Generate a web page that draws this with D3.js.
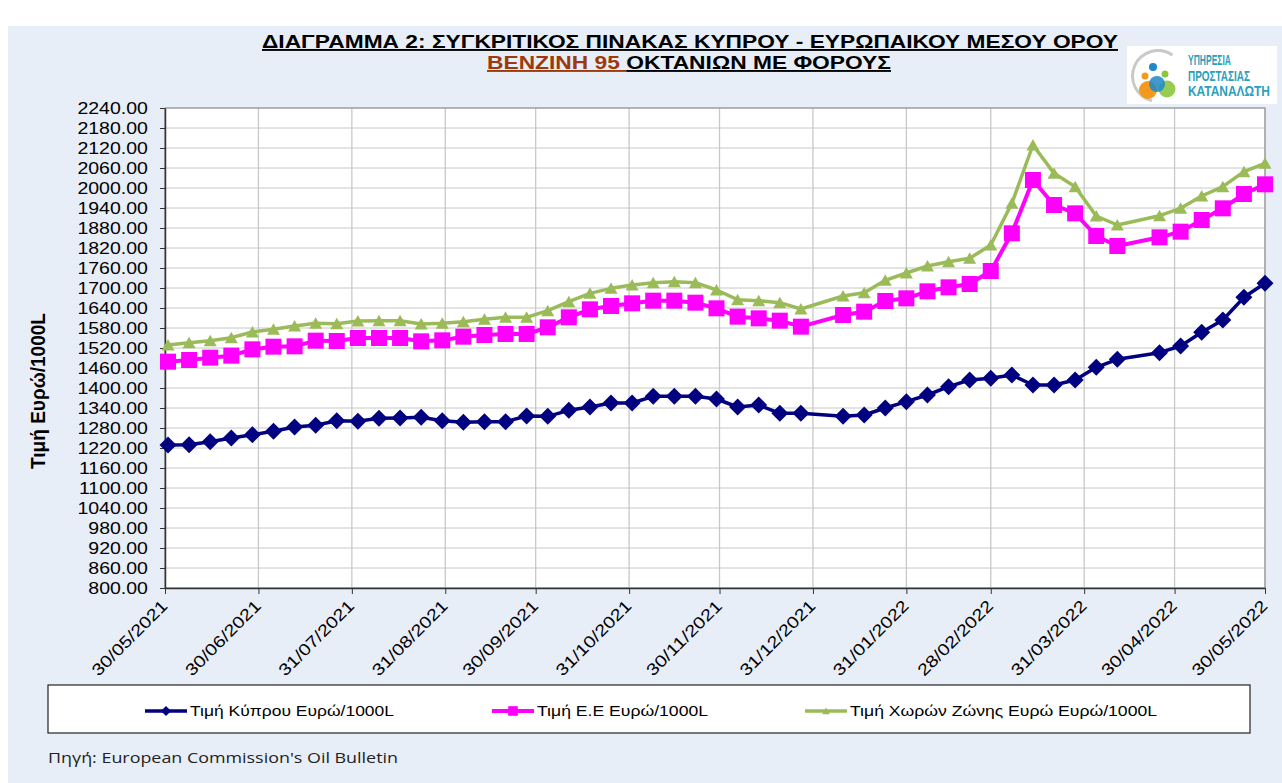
<!DOCTYPE html>
<html>
<head>
<meta charset="utf-8">
<script src="https://cdn.jsdelivr.net/npm/d3@7"></script>
<style>
    body { margin: 0; background: #fff; }
    svg { display: block; font-family: "Liberation Sans", Arial, sans-serif; }
</style>
</head>
<body>
<svg id="chart" width="1282" height="783"></svg>
<script>
// weekly Oil Bulletin dates (03/01/2022 and 18/04/2022 are missing)
const dates = [
    '31/05/2021', '07/06/2021', '14/06/2021', '21/06/2021', '28/06/2021', '05/07/2021', '12/07/2021',
    '19/07/2021', '26/07/2021', '02/08/2021', '09/08/2021', '16/08/2021', '23/08/2021', '30/08/2021',
    '06/09/2021', '13/09/2021', '20/09/2021', '27/09/2021', '04/10/2021', '11/10/2021', '18/10/2021',
    '25/10/2021', '01/11/2021', '08/11/2021', '15/11/2021', '22/11/2021', '29/11/2021', '06/12/2021',
    '13/12/2021', '20/12/2021', '27/12/2021', '10/01/2022', '17/01/2022', '24/01/2022', '31/01/2022',
    '07/02/2022', '14/02/2022', '21/02/2022', '28/02/2022', '07/03/2022', '14/03/2022', '21/03/2022',
    '28/03/2022', '04/04/2022', '11/04/2022', '25/04/2022', '02/05/2022', '09/05/2022', '16/05/2022',
    '23/05/2022', '30/05/2022'
]
const cyprus = [
    1229, 1230, 1239, 1250, 1260, 1270, 1283, 1288, 1302, 1300, 1309, 1310, 1312, 1302,
    1297, 1299, 1299, 1316, 1315, 1333, 1343, 1355, 1355, 1375, 1375, 1375, 1367, 1343,
    1349, 1324, 1324, 1315, 1319, 1340, 1359, 1379, 1404, 1424, 1429, 1439, 1409, 1409,
    1424, 1462, 1486, 1506, 1526, 1567, 1604, 1672, 1714
]
const eu = [
    1479, 1484, 1491, 1497, 1516, 1524, 1525, 1542, 1541, 1550, 1550, 1550, 1540, 1543,
    1554, 1559, 1562, 1562, 1582, 1612, 1636, 1646, 1654, 1662, 1662, 1656, 1639, 1614,
    1609, 1602, 1584, 1619, 1629, 1661, 1669, 1690, 1702, 1712, 1751, 1864, 2024, 1949,
    1924, 1856, 1826, 1852, 1869, 1904, 1939, 1982, 2011
]
const euroZone = [
    1529, 1536, 1542, 1551, 1568, 1576, 1586, 1594, 1593, 1601, 1602, 1602, 1592, 1594,
    1599, 1606, 1612, 1612, 1632, 1659, 1684, 1699, 1709, 1716, 1719, 1716, 1694, 1665,
    1662, 1656, 1637, 1676, 1686, 1723, 1745, 1766, 1779, 1789, 1829, 1954, 2129, 2044,
    2004, 1916, 1889, 1917, 1939, 1976, 2004, 2049, 2074
]
const seriesNames = ['Τιμή Κύπρου Ευρώ/1000L', 'Τιμή Ε.Ε Ευρώ/1000L', 'Τιμή Χωρών Ζώνης Ευρώ Ευρώ/1000L']
const xTickLabels = [
    '30/05/2021', '30/06/2021', '31/07/2021', '31/08/2021', '30/09/2021', '31/10/2021', '30/11/2021',
    '31/12/2021', '31/01/2022', '28/02/2022', '31/03/2022', '30/04/2022', '30/05/2022'
]
const yTicks = [
    800, 860, 920, 980, 1040, 1100, 1160, 1220, 1280, 1340, 1400, 1460, 1520,
    1580, 1640, 1700, 1760, 1820, 1880, 1940, 2000, 2060, 2120, 2180, 2240
]
const titleLine1 = 'ΔΙΑΓΡΑΜΜΑ 2: ΣΥΓΚΡΙΤΙΚΟΣ ΠΙΝΑΚΑΣ ΚΥΠΡΟΥ - ΕΥΡΩΠΑΙΚΟΥ ΜΕΣΟΥ ΟΡΟΥ'
const titleLine2a = 'ΒΕΝΖΙΝΗ 95 '
const titleLine2b = 'ΟΚΤΑΝΙΩΝ ΜΕ ΦΟΡΟΥΣ'
const yTitle = 'Τιμή Ευρώ/1000L'
const source = "Πηγή: European Commission's Oil Bulletin"
const logoLines = ['ΥΠΗΡΕΣΙΑ', 'ΠΡΟΣΤΑΣΙΑΣ', 'ΚΑΤΑΝΑΛΩΤΗ']

const SX = 1.22 // the original chart is stretched sideways
const parse = d3.timeParse('%d/%m/%Y')
const fmt = d3.timeFormat('%d/%m/%Y')

const svg = d3.select('#chart')

// panel behind the chart
svg.append('rect').attr('x', 8).attr('y', 26).attr('width', 1274).attr('height', 757).attr('fill', '#e8eef8')

const plot = { left: 165, right: 1265, top: 108, bottom: 588 }

const x = d3
    .scaleTime()
    .domain([parse(xTickLabels[0]), parse(xTickLabels[xTickLabels.length - 1])])
    .range([plot.left, plot.right])
const y = d3.scaleLinear().domain([yTicks[0], yTicks[yTicks.length - 1]]).range([plot.bottom, plot.top])

svg.append('rect')
    .attr('x', plot.left).attr('y', plot.top)
    .attr('width', plot.right - plot.left).attr('height', plot.bottom - plot.top)
    .attr('fill', '#fff')

// grid
svg.append('g').selectAll('line').data(yTicks).join('line')
    .attr('x1', plot.left).attr('x2', plot.right)
    .attr('y1', (d) => y(d)).attr('y2', (d) => y(d))
    .attr('stroke', '#c8c8c8').attr('stroke-width', 1)
svg.append('g').selectAll('line').data(xTickLabels.map(parse)).join('line')
    .attr('x1', (d) => x(d)).attr('x2', (d) => x(d))
    .attr('y1', plot.top).attr('y2', plot.bottom)
    .attr('stroke', '#c8c8c8').attr('stroke-width', 1.3)

svg.append('rect')
    .attr('x', plot.left).attr('y', plot.top)
    .attr('width', plot.right - plot.left).attr('height', plot.bottom - plot.top)
    .attr('fill', 'none').attr('stroke', '#888').attr('stroke-width', 1)

// y axis
const gY = svg.append('g')
    .attr('transform', `translate(${plot.left},0)`)
    .call(d3.axisLeft(y).tickValues(yTicks).tickSize(5).tickSizeOuter(0).tickFormat((d) => d.toFixed(2)))
gY.attr('font-family', null).attr('font-size', 16)
gY.select('.domain').attr('stroke', '#333').attr('stroke-width', 1.5)
gY.selectAll('line').attr('stroke', '#333')
gY.selectAll('text').attr('x', -14).attr('dy', '0.35em').attr('fill', '#000').attr('transform', `scale(${SX},1)`)

// x axis
const gX = svg.append('g')
    .attr('transform', `translate(0,${plot.bottom})`)
    .call(d3.axisBottom(x).tickValues(xTickLabels.map(parse)).tickSize(6).tickSizeOuter(0).tickFormat(fmt))
gX.attr('font-family', null).attr('font-size', 16.5)
gX.select('.domain').attr('stroke', '#333').attr('stroke-width', 1.5)
gX.selectAll('line').attr('stroke', '#333')
gX.selectAll('text')
    .attr('x', 0).attr('y', 0).attr('dy', 0)
    .attr('text-anchor', 'end').attr('fill', '#000')
    .attr('textLength', 99).attr('lengthAdjust', 'spacingAndGlyphs')
    .attr('transform', 'translate(3,19) rotate(-45)')

// series
const markers = {
    diamond: 'M0,-8.5L8.5,0L0,8.5L-8.5,0Z',
    square: 'M-8,-8H8V8H-8Z',
    triangle: 'M0,-6L6.5,5.5L-6.5,5.5Z'
}
const series = [
    { name: seriesNames[0], values: cyprus, color: '#000080', marker: 'diamond', width: 3.5 },
    { name: seriesNames[1], values: eu, color: '#ff00ff', marker: 'square', width: 4 },
    { name: seriesNames[2], values: euroZone, color: '#9bbb59', marker: 'triangle', width: 3.5 }
]
const line = d3.line().x((d) => x(d.date)).y((d) => y(d.v))

series.forEach((s) => {
    const pts = dates.map((d, i) => ({ date: parse(d), v: s.values[i] }))
    const g = svg.append('g')
    g.append('path').datum(pts).attr('d', line)
        .attr('fill', 'none').attr('stroke', s.color).attr('stroke-width', s.width).attr('stroke-linejoin', 'round')
    g.selectAll('path.m').data(pts).join('path')
        .attr('class', 'm')
        .attr('d', markers[s.marker])
        .attr('transform', (d) => `translate(${x(d.date)},${y(d.v)})`)
        .attr('fill', s.color)
})

// y title
svg.append('text')
    .attr('transform', `translate(45,391) scale(${SX},1) rotate(-90)`)
    .attr('text-anchor', 'middle')
    .attr('font-size', 16).attr('font-weight', 'bold')
    .attr('textLength', 156).attr('lengthAdjust', 'spacingAndGlyphs')
    .text(yTitle)

// titles
svg.append('text')
    .attr('x', 690).attr('y', 48)
    .attr('text-anchor', 'middle')
    .attr('font-size', 19).attr('font-weight', 'bold')
    .attr('textLength', 856).attr('lengthAdjust', 'spacingAndGlyphs')
    .style('text-decoration', 'underline')
    .text(titleLine1)
const t2 = svg.append('text')
    .attr('x', 487).attr('y', 69)
    .attr('font-size', 19).attr('font-weight', 'bold')
    .attr('textLength', 404).attr('lengthAdjust', 'spacingAndGlyphs')
t2.append('tspan').attr('fill', '#9c3a0c').style('text-decoration', 'underline').text(titleLine2a)
t2.append('tspan').attr('fill', '#000').style('text-decoration', 'underline').text(titleLine2b)

// logo
const logo = svg.append('g')
logo.append('rect').attr('x', 1127).attr('y', 46).attr('width', 150).attr('height', 58).attr('fill', '#fff')
logo.append('path')
    .attr('d', d3.arc()({ innerRadius: 24, outerRadius: 27, startAngle: -2.9, endAngle: 0.6 }))
    .attr('transform', 'translate(1158,76)').attr('fill', '#c9c9c9')
logo.append('circle').attr('cx', 1148).attr('cy', 90).attr('r', 9).attr('fill', '#f39a1e')
logo.append('circle').attr('cx', 1167).attr('cy', 89).attr('r', 8.5).attr('fill', '#8cc63f').attr('opacity', 0.9)
logo.append('circle').attr('cx', 1157).attr('cy', 84).attr('r', 8).attr('fill', '#1e88c8').attr('opacity', 0.85)
logo.append('circle').attr('cx', 1153).attr('cy', 67).attr('r', 4).attr('fill', '#1e88c8')
logo.append('circle').attr('cx', 1145).attr('cy', 76).attr('r', 3.5).attr('fill', '#f39a1e')
logo.append('circle').attr('cx', 1165).attr('cy', 74).attr('r', 3.5).attr('fill', '#8cc63f')
const logoW = [43, 62, 82]
logoLines.forEach((d, i) => {
    const g = logo.append('g')
    const t = g.append('text')
        .attr('font-size', 15).attr('font-weight', 'bold').attr('fill', '#2aa0bc')
        .text(d)
    const sx = logoW[i] / t.node().getComputedTextLength()
    g.attr('transform', `translate(1188,${65 + i * 15.5}) scale(${sx},1)`)
})

// legend
svg.append('rect').attr('x', 48).attr('y', 685).attr('width', 1202).attr('height', 48)
    .attr('fill', '#fff').attr('stroke', '#222').attr('stroke-width', 1.2)
const legendX = [166, 513, 826]
const legendW = [204, 171, 307]
series.forEach((s, i) => {
    const g = svg.append('g').attr('transform', `translate(${legendX[i]},711)`)
    g.append('line').attr('x1', -21).attr('x2', 21).attr('stroke', s.color).attr('stroke-width', s.width)
    g.append('path').attr('d', markers[s.marker]).attr('transform', 'scale(0.6)').attr('fill', s.color)
    g.append('text').attr('x', 24).attr('dy', '0.35em')
        .attr('font-size', 14)
        .attr('textLength', legendW[i]).attr('lengthAdjust', 'spacingAndGlyphs')
        .text(s.name)
})

// source
svg.append('text')
    .attr('x', 48).attr('y', 763)
    .attr('font-family', '"Open Sans", "Noto Sans", sans-serif')
    .attr('font-size', 14).attr('fill', '#222')
    .attr('textLength', 350).attr('lengthAdjust', 'spacingAndGlyphs')
    .text(source)
</script>
</body>
</html>
